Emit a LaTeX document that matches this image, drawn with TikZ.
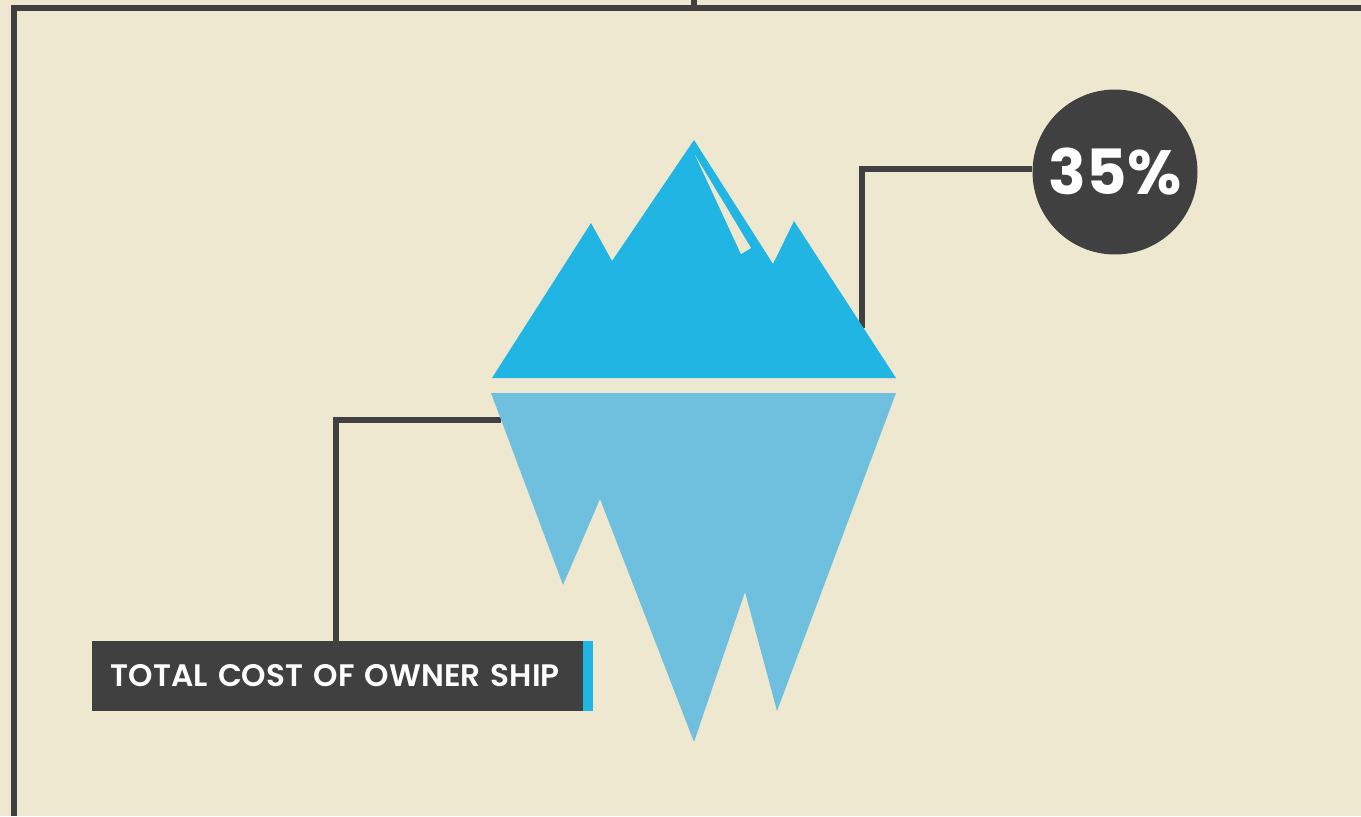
\documentclass[tikz,border=0pt]{standalone}
\usepackage{fontspec}
\setmainfont{Poppins}
\newfontfamily\tagfont{Poppins SemiBold}
\usetikzlibrary{positioning}
\definecolor{paper}{HTML}{EFE8D0}
\definecolor{slate}{HTML}{404041}
\definecolor{iceblue}{HTML}{20B5E2}
\definecolor{paleblue}{HTML}{6EC0DE}
\tikzset{
  frameline/.style={draw=slate, line width=0.12cm},
  leader/.style={draw=slate, line width=0.11cm},
  badge/.style={
    circle, fill=slate, text=white, inner sep=0pt, minimum size=3.3cm,
    font=\fontsize{35.5}{36}\selectfont\bfseries
  },
  tag/.style={
    fill=slate, text=white, inner xsep=0.38cm, inner ysep=0pt,
    text width=9.06cm, minimum height=1.4cm, align=left,
    font=\fontsize{17.7}{18}\selectfont\tagfont
  },
  tagend/.style={fill=iceblue, inner sep=0pt, minimum width=0.2cm, minimum height=1.4cm}
}

\begin{document}
\begin{tikzpicture}[x=0.02cm, y=-0.02cm]
\useasboundingbox (0,0) rectangle (1361,816);
\fill [paper] (0,0) rectangle (1361,816);
\draw [frameline] (14,816) -- (14,8) -- (1361,8);
\draw [frameline] (694,0) -- (694,8);

\coordinate (bergright) at (862,328);
\coordinate (bergleft) at (501,420);
\node [badge] (percent) at (1115,172) {35\%};
\node [tagend] (totalend) at (588,676) {};
\node [tag, left=-0.3pt of totalend] (total) {TOTAL COST OF OWNER SHIP};

\draw [leader] (percent.178) -| (bergright);
\draw [leader] ([xshift=-0.03cm]total.north) |- (bergleft);

\fill [iceblue] (492,378) -- (591,223) -- (612,261) -- (694,140) -- (773,264)
  -- (794,221) -- (896,378) -- cycle;
\fill [paper] (695,155) -- (751,248) -- (741,254) -- cycle;
\fill [paleblue] (491,393) -- (896,393) -- (777,711) -- (745,592) -- (694,742)
  -- (600,499) -- (563,585) -- cycle;
\end{tikzpicture}
\end{document}
